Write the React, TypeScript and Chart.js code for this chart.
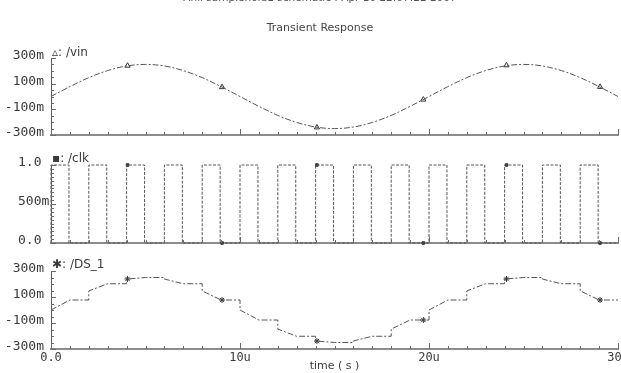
import React, { useEffect, useRef } from 'react';
import { Chart, registerables } from 'chart.js';

Chart.register(...registerables);

// ---------- data ----------
const headerText = 'Anil samplehold1 schematic : Apr 10 22:07:22 2007';
const titleText = 'Transient Response';
const xAxisTitle = 'time ( s )';

// time in microseconds
const vinTimes = [0, 1, 2, 3, 4, 5, 6, 7, 8, 9, 10, 11, 12, 13, 14, 15, 16, 17, 18, 19, 20, 21, 22, 23, 24, 25, 26, 27, 28, 29, 30];
// mV
const vinValues = [0, 77, 147, 202, 238, 250, 238, 202, 147, 77, 0, -77, -147, -202, -238, -250, -238, -202, -147, -77, 0, 77, 147, 202, 238, 250, 238, 202, 147, 77, 0];

const clkRise = [0, 2, 4, 6, 8, 10, 12, 14, 16, 18, 20, 22, 24, 26, 28];
const clkFall = [0.95, 2.95, 4.95, 6.95, 8.95, 10.95, 12.95, 14.95, 16.95, 18.95, 20.95, 22.95, 24.95, 26.95, 28.95];

const ds1Times = [0, 1, 2, 2, 3, 4, 4, 5, 6, 6, 7, 8, 8, 9, 10, 10, 11, 12, 12, 13, 14, 14, 15, 16, 16, 17, 18, 18, 19, 20, 20, 21, 22, 22, 23, 24, 24, 25, 26, 26, 27, 28, 28, 29, 30];
const ds1Values = [0, 77, 77, 147, 202, 202, 238, 250, 250, 238, 202, 202, 147, 77, 77, 0, -77, -77, -147, -202, -202, -238, -250, -250, -238, -202, -202, -147, -77, -77, 0, 77, 77, 147, 202, 202, 238, 250, 250, 238, 202, 202, 147, 77, 77];

const markerTimes = [4.05, 9.05, 14.07, 19.7, 24.1, 29.05];
const vinMarkerValues = [240, 73, -241, -24, 243, 75];
const clkMarkerValues = [1, 0, 1, 0, 1, 0];
const ds1MarkerValues = [239, 77, -239, -77, 239, 77];

const xLabelValues = [0, 10, 20, 30];
const xLabels = ['0.0', '10u', '20u', '30u'];
const mvLabelValues = [-300, -100, 100, 300];
const mvLabels = ['-300m', '-100m', '100m', '300m'];
const clkLabelValues = [0, 0.5, 1];
const clkLabels = ['0.0', '500m', '1.0'];

// ---------- layout constants ----------
const CANVAS_W = 700;
const AREA_LEFT = 51;
const AREA_RIGHT = 618;
const LINE_COLOR = '#555555';
const TEXT_COLOR = '#3a3a3a';
const DASH = [6, 2, 2, 2];
const MONO = '"DejaVu Sans Mono", monospace';
const SANS = '"DejaVu Sans", sans-serif';

const xTickValues: number[] = [];
for (let i = 0; i <= 30; i++) xTickValues.push(i);
const mvTickValues: number[] = [];
for (let v = -300; v <= 300; v += 50) mvTickValues.push(v);
const clkTickValues: number[] = [];
for (let k = 0; k <= 20; k++) clkTickValues.push(k / 20);

function labelFor(v: number, vals: number[], labels: string[]) {
  for (let i = 0; i < vals.length; i++) if (Math.abs(vals[i] - v) < 1e-6) return labels[i];
  return '';
}
function isMajor(v: number, vals: number[]) {
  return vals.some((a) => Math.abs(a - v) < 1e-6);
}

const innerTicks = {
  id: 'innerTicks',
  afterDraw(chart: any, _args: any, opts: any) {
    const { ctx, chartArea } = chart;
    const xs = chart.scales.x;
    const ys = chart.scales.y;
    ctx.save();
    ctx.lineWidth = 1;
    ctx.strokeStyle = '#6a6a6a';
    xs.ticks.forEach((t: any) => {
      const px = Math.round(xs.getPixelForValue(t.value)) + 0.5;
      const len = isMajor(t.value, xLabelValues) ? 6 : 3;
      ctx.beginPath();
      ctx.moveTo(px, chartArea.bottom);
      ctx.lineTo(px, chartArea.bottom - len);
      ctx.stroke();
    });
    ys.ticks.forEach((t: any) => {
      const py = Math.round(ys.getPixelForValue(t.value)) + 0.5;
      const len = isMajor(t.value, opts.majors || []) ? 5 : 3;
      ctx.beginPath();
      ctx.moveTo(chartArea.left, py);
      ctx.lineTo(chartArea.left + len, py);
      ctx.stroke();
    });
    ctx.restore();
  },
};

const panelText = {
  id: 'panelText',
  afterDraw(chart: any, _args: any, opts: any) {
    const { ctx } = chart;
    ctx.save();
    (opts.items || []).forEach((it: any) => {
      ctx.font = it.font;
      ctx.fillStyle = it.color || TEXT_COLOR;
      ctx.textAlign = it.align || 'left';
      ctx.textBaseline = 'middle';
      ctx.fillText(it.text, it.x, it.y);
    });
    ctx.restore();
  },
};

type Panel = {
  height: number;
  top: number;
  bottom: number;
  xHeight: number;
  showX: boolean;
  ymin: number;
  ymax: number;
  yTicks: number[];
  yLabelVals: number[];
  yLabels: string[];
  padLeft: number;
  yWidth: number;
  crossAlign: 'near' | 'far';
  yPad: number;
  datasets: any[];
  texts: any[];
};

function buildConfig(p: Panel): any {
  return {
    type: 'line',
    data: { datasets: p.datasets },
    options: {
      animation: false,
      responsive: false,
      events: [],
      layout: {
        padding: {
          top: p.top,
          left: p.padLeft,
          right: CANVAS_W - AREA_RIGHT,
          bottom: p.height - p.bottom - p.xHeight,
        },
      },
      plugins: {
        legend: { display: false },
        tooltip: { enabled: false },
        title: { display: false },
        panelText: { items: p.texts },
        innerTicks: { majors: p.yLabelVals },
      },
      scales: {
        x: {
          type: 'linear',
          min: 0,
          max: 30,
          afterBuildTicks: (s: any) => {
            s.ticks = xTickValues.map((v) => ({ value: v }));
          },
          afterFit: (s: any) => {
            s.height = p.xHeight;
            s.paddingLeft = 0;
            s.paddingRight = 0;
          },
          grid: { display: false, drawTicks: false },
          border: { display: true, color: '#8c8c8c', width: 2 },
          ticks: {
            display: p.showX,
            autoSkip: false,
            maxRotation: 0,
            padding: 2,
            color: TEXT_COLOR,
            font: { family: MONO, size: 12 },
            callback: (v: number) => labelFor(v, xLabelValues, xLabels),
          },
          title: {
            display: p.showX,
            text: xAxisTitle,
            padding: { top: 0, bottom: 0 },
            color: TEXT_COLOR,
            font: { family: SANS, size: 11 },
          },
        },
        y: {
          type: 'linear',
          position: 'left',
          min: p.ymin,
          max: p.ymax,
          afterBuildTicks: (s: any) => {
            s.ticks = p.yTicks.map((v) => ({ value: v }));
          },
          afterFit: (s: any) => {
            s.width = p.yWidth;
            s.paddingTop = 0;
            s.paddingBottom = 0;
          },
          grid: { display: false, drawTicks: false },
          border: { display: true, color: '#5a5a5a', width: 1 },
          ticks: {
            autoSkip: false,
            crossAlign: p.crossAlign,
            padding: p.yPad,
            labelOffset: -2,
            color: TEXT_COLOR,
            font: { family: MONO, size: 13 },
            callback: (v: number) => labelFor(v, p.yLabelVals, p.yLabels),
          },
        },
      },
    },
    plugins: [innerTicks, panelText],
  };
}

function lineDataset(times: number[], values: number[], tension: number) {
  return {
    type: 'line',
    data: times.map((t, i) => ({ x: t, y: values[i] })),
    borderColor: LINE_COLOR,
    borderWidth: 1,
    borderDash: DASH,
    pointRadius: 0,
    tension,
    clip: false,
    fill: false,
  };
}

function markerDataset(values: number[], style: string, radius: number, filled: boolean) {
  return {
    type: 'scatter',
    data: markerTimes.map((t, i) => ({ x: t, y: values[i] })),
    showLine: false,
    pointStyle: style,
    pointRadius: radius,
    pointBorderWidth: 1,
    pointBorderColor: '#333',
    pointBackgroundColor: filled ? '#333' : 'rgba(0,0,0,0)',
    clip: false,
  };
}

function clkPoints() {
  const pts: { x: number; y: number }[] = [];
  clkRise.forEach((r, i) => {
    pts.push({ x: r, y: 0 });
    pts.push({ x: r, y: 1 });
    pts.push({ x: clkFall[i], y: 1 });
    pts.push({ x: clkFall[i], y: 0 });
  });
  pts.push({ x: 30, y: 0 });
  return pts;
}

const panelVin: Panel = {
  height: 150,
  top: 58,
  bottom: 135,
  xHeight: 5,
  showX: false,
  ymin: -300,
  ymax: 300,
  yTicks: mvTickValues,
  yLabelVals: mvLabelValues,
  yLabels: mvLabels,
  padLeft: 0,
  yWidth: AREA_LEFT,
  crossAlign: 'near',
  yPad: 7,
  datasets: [lineDataset(vinTimes, vinValues, 0.35), markerDataset(vinMarkerValues, 'triangle', 3, false)],
  texts: [
    { text: headerText, x: 320, y: -1.5, align: 'center', font: `10.5px ${SANS}`, color: '#555' },
    { text: titleText, x: 320, y: 28, align: 'center', font: `11px ${SANS}`, color: '#444' },
    { text: '\u25B5: /vin', x: 52, y: 53, font: `12px ${SANS}` },
  ],
};

const panelClk: Panel = {
  height: 120,
  top: 25,
  bottom: 103,
  xHeight: 5,
  showX: false,
  ymin: 0,
  ymax: 1,
  yTicks: clkTickValues,
  yLabelVals: clkLabelValues,
  yLabels: clkLabels,
  padLeft: 18,
  yWidth: AREA_LEFT - 18,
  crossAlign: 'far',
  yPad: 0,
  datasets: [
    {
      type: 'line',
      data: clkPoints(),
      borderColor: LINE_COLOR,
      borderWidth: 1,
      borderDash: [3, 1.5],
      pointRadius: 0,
      tension: 0,
      clip: false,
      fill: false,
    },
    markerDataset(clkMarkerValues, 'rect', 1.8, true),
  ],
  texts: [{ text: '\u25AA: /clk', x: 52, y: 19, font: `12px ${SANS}` }],
};

const panelDs: Panel = {
  height: 123,
  top: 21,
  bottom: 99,
  xHeight: 24,
  showX: true,
  ymin: -300,
  ymax: 300,
  yTicks: mvTickValues,
  yLabelVals: mvLabelValues,
  yLabels: mvLabels,
  padLeft: 0,
  yWidth: AREA_LEFT,
  crossAlign: 'near',
  yPad: 7,
  datasets: [lineDataset(ds1Times, ds1Values, 0), markerDataset(ds1MarkerValues, 'star', 3, false)],
  texts: [{ text: '\u2731: /DS_1', x: 52, y: 15, font: `12px ${SANS}` }],
};

export default function App() {
  const r1 = useRef<HTMLCanvasElement>(null);
  const r2 = useRef<HTMLCanvasElement>(null);
  const r3 = useRef<HTMLCanvasElement>(null);

  useEffect(() => {
    const charts = [
      new Chart(r1.current as HTMLCanvasElement, buildConfig(panelVin)),
      new Chart(r2.current as HTMLCanvasElement, buildConfig(panelClk)),
      new Chart(r3.current as HTMLCanvasElement, buildConfig(panelDs)),
    ];
    return () => charts.forEach((c) => c.destroy());
  }, []);

  return (
    <div
      style={{
        position: 'fixed',
        left: 0,
        top: 0,
        width: 621,
        height: 373,
        overflow: 'hidden',
        background: '#ffffff',
      }}
    >
      <canvas ref={r1} width={CANVAS_W} height={panelVin.height} style={{ position: 'absolute', left: 0, top: 0 }} />
      <canvas ref={r2} width={CANVAS_W} height={panelClk.height} style={{ position: 'absolute', left: 0, top: 140 }} />
      <canvas ref={r3} width={CANVAS_W} height={panelDs.height} style={{ position: 'absolute', left: 0, top: 250 }} />
    </div>
  );
}
